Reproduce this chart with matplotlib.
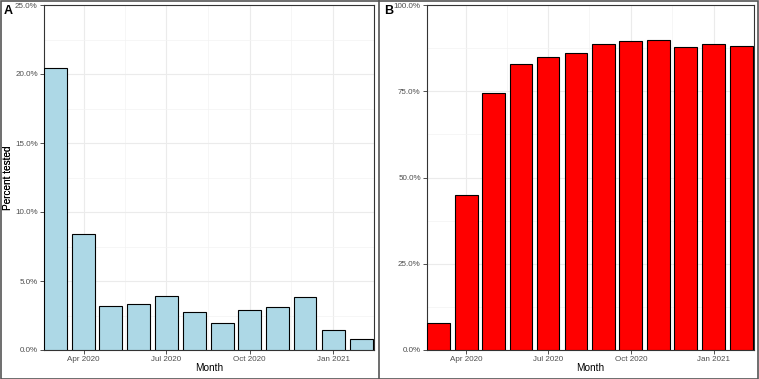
import matplotlib
matplotlib.use("Agg")
import matplotlib.pyplot as plt
import matplotlib.dates as mdates
from matplotlib.ticker import FuncFormatter, MultipleLocator
from matplotlib.patches import Rectangle
from matplotlib.lines import Line2D
import numpy as np
import datetime as dt

plt.rcParams['font.family'] = ['Liberation Sans', 'DejaVu Sans']

# monthly data, Mar 2020 - Feb 2021
months = [dt.date(2020, m, 1) for m in range(3, 13)] + [dt.date(2021, 1, 1), dt.date(2021, 2, 1)]
pct_a = [20.4, 8.43, 3.16, 3.31, 3.89, 2.73, 1.93, 2.87, 3.14, 3.86, 1.43, 0.77]
pct_b = [7.9, 44.8, 74.4, 82.8, 85.0, 86.2, 88.7, 89.5, 89.8, 87.7, 88.7, 88.2]
tick_dates = [dt.date(2020, 4, 1), dt.date(2020, 7, 1), dt.date(2020, 10, 1), dt.date(2021, 1, 1)]
tick_labels = ["Apr 2020", "Jul 2020", "Oct 2020", "Jan 2021"]

W, H = 759, 379
fig = plt.figure(figsize=(W / 100, H / 100), dpi=100)

bar_w = 25.2  # days
x = mdates.date2num(months)
x_major = mdates.date2num(tick_dates)
x_minor = (x_major[:-1] + x_major[1:]) / 2
x_minor = np.concatenate([x_minor, [x_major[-1] + 45]])
grey = "#333333"


def panel(rect, vals, color, ymax, ystep, letter, lx):
    ax = fig.add_axes(rect)
    ax.bar(x, vals, width=bar_w, color=color, edgecolor="black", linewidth=0.8, zorder=3)
    ax.set_xlim(x[0] - bar_w / 2, x[-1] + bar_w / 2)
    ax.set_ylim(0, ymax)
    ax.yaxis.set_major_locator(MultipleLocator(ystep))
    ax.yaxis.set_minor_locator(MultipleLocator(ystep / 2))
    ax.yaxis.set_major_formatter(FuncFormatter(lambda v, p: f"{v:.1f}%"))
    ax.set_xticks(x_major)
    ax.set_xticklabels(tick_labels)
    ax.set_xticks(x_minor, minor=True)
    ax.grid(which="major", color="#EBEBEB", linewidth=0.8, zorder=0)
    ax.grid(which="minor", color="#F3F3F3", linewidth=0.5, zorder=0)
    ax.tick_params(which="major", length=3, width=0.6, color=grey, labelsize=5.8,
                   labelcolor="#4D4D4D", pad=1.5)
    ax.tick_params(which="minor", length=0)
    for s in ax.spines.values():
        s.set_color(grey)
        s.set_linewidth(0.8)
    ax.set_xlabel("Month", fontsize=7.2)
    ax.xaxis.set_label_coords(0.5, -13 / 345)
    ax.set_ylabel("Percent tested", fontsize=7.2)
    ax.yaxis.set_label_coords(-(rect[0] * W - 13) / (rect[2] * W), 0.5)
    fig.text(lx, 1 - 11 / H, letter, fontsize=9, fontweight="bold", va="center")
    return ax


panel([44 / W, 29 / H, 330 / W, 345 / H], pct_a, "#ADD8E6", 25, 5, "A", 4 / W)
panel([427 / W, 29 / H, 327 / W, 345 / H], pct_b, "#FF0000", 100, 25, "B", 384 / W)

# outer frame and divider
fig.patches.append(Rectangle((0.5 / W, 0.5 / H), 1 - 1.5 / W, 1 - 1.5 / H, transform=fig.transFigure,
                             fill=False, edgecolor="#555555", linewidth=1.2))
fig.lines.append(Line2D([379 / W, 379 / W], [0, 1], transform=fig.transFigure, color="#555555", linewidth=1.2))

fig.savefig("out.png", dpi=100)
